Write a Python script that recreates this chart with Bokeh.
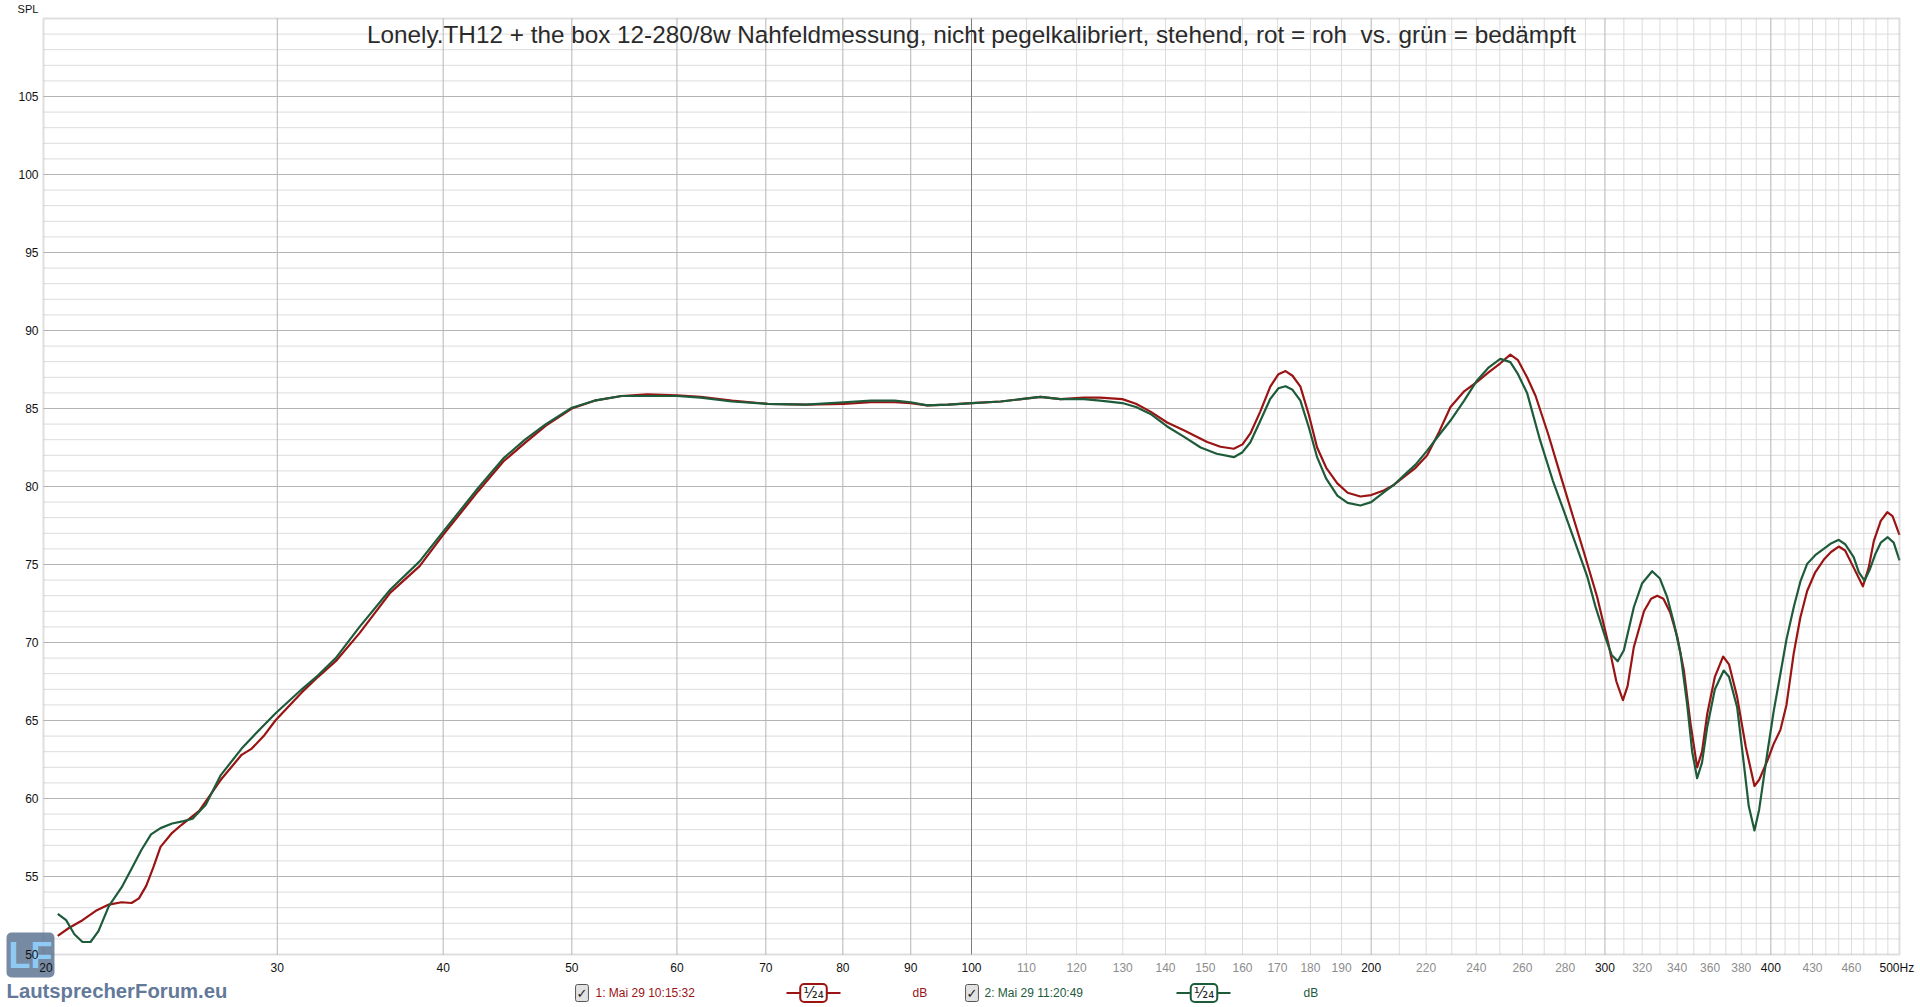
from bokeh.plotting import figure
from bokeh.models import Range1d, Label, Arrow, BoxAnnotation
from bokeh.embed import file_html
from bokeh.resources import INLINE

# ---------------- data ----------------
red_freq = [20.5, 20.9, 21.4, 21.9, 22.4, 22.9, 23.3, 23.6, 23.9, 24.2, 24.5, 25.0, 25.4, 26.2,
            27.2, 28.2, 28.7, 29.3, 29.9, 31.3, 32.2, 33.2, 34.6, 36.5, 38.4, 40.0, 42.5, 44.4,
            46.1, 47.8, 50.0, 52.0, 54.5, 57.0, 60.0, 62.5, 66.0, 70.2, 75.0, 80.1, 84.0, 87.5,
            90.0, 92.6, 96.0, 100.1, 105.2, 109.0, 112.7, 116.7, 121.5, 125.0, 129.9, 133.0,
            136.4, 140.4, 144.5, 150.5, 154.0, 157.6, 160.0, 162.2, 165.0, 167.9, 170.3, 172.4,
            174.5, 176.9, 179.5, 182.1, 185.0, 188.6, 192.0, 196.3, 200.0, 204.4, 208.0, 211.6,
            216.0, 220.4, 225.0, 229.5, 235.0, 240.3, 245.0, 250.2, 254.6, 258.0, 262.1, 266.0,
            272.0, 278.0, 284.0, 289.2, 296.0, 302.0, 306.0, 309.5, 312.0, 315.4, 321.0, 325.0,
            328.5, 332.0, 336.0, 340.0, 344.0, 348.0, 352.0, 355.0, 358.2, 363.0, 368.2, 372.0,
            377.3, 383.0, 388.8, 392.0, 397.5, 402.0, 406.7, 411.0, 416.2, 421.0, 426.0, 432.0,
            438.4, 444.0, 450.0, 455.0, 461.8, 469.2, 474.0, 478.2, 484.0, 489.5, 494.0, 500.0]
red_spl = [51.2, 51.7, 52.2, 52.8, 53.2, 53.35, 53.3, 53.6, 54.4, 55.6, 56.9, 57.8, 58.3, 59.2,
           61.2, 62.8, 63.2, 64.0, 65.0, 66.8, 67.8, 68.8, 70.6, 73.2, 74.9, 76.9, 79.7, 81.6,
           82.8, 83.9, 85.0, 85.5, 85.8, 85.9, 85.85, 85.75, 85.5, 85.3, 85.25, 85.3, 85.4, 85.4,
           85.35, 85.2, 85.25, 85.35, 85.45, 85.6, 85.75, 85.6, 85.7, 85.7, 85.6, 85.3,
           84.8, 84.1, 83.6, 82.85, 82.55, 82.42, 82.7, 83.4, 84.8, 86.4, 87.2, 87.4,
           87.1, 86.4, 84.6, 82.5, 81.2, 80.2, 79.6, 79.36, 79.45, 79.74, 80.1, 80.6,
           81.2, 82.0, 83.5, 85.1, 86.1, 86.7, 87.3, 87.9, 88.45, 88.1, 87.0, 85.8,
           83.3, 80.6, 78.0, 75.8, 72.9, 69.8, 67.5, 66.3, 67.2, 69.7, 72.0, 72.8,
           73.0, 72.8, 71.9, 70.4, 68.2, 64.8, 62.0, 63.0, 65.4, 67.8, 69.1, 68.6,
           66.5, 63.3, 60.8, 61.2, 62.4, 63.5, 64.4, 66.0, 69.3, 71.6, 73.3, 74.5,
           75.3, 75.8, 76.15, 75.9, 74.8, 73.6, 74.8, 76.5, 77.8, 78.35, 78.1, 76.9]

green_freq = [20.5, 20.8, 21.1, 21.4, 21.7, 22.0, 22.4, 22.9, 23.3, 23.7, 24.1, 24.5, 25.0, 25.5,
              25.9, 26.5, 27.2, 28.2, 29.0, 29.9, 31.3, 32.2, 33.2, 34.6, 36.5, 38.4, 40.0, 42.5,
              44.4, 46.1, 47.8, 50.0, 52.0, 54.5, 57.0, 60.0, 62.5, 66.0, 70.2, 75.0, 80.1, 84.0,
              87.5, 90.0, 92.6, 96.0, 100.1, 105.2, 109.0, 112.7, 116.7, 121.5, 125.0, 129.9,
              133.0, 136.4, 140.4, 144.5, 148.8, 153.0, 157.6, 160.0, 162.2, 165.0, 167.9, 170.3,
              172.4, 174.5, 176.9, 179.5, 182.1, 185.0, 188.6, 192.0, 196.3, 200.0, 204.4, 208.0,
              211.6, 216.0, 220.4, 225.0, 229.5, 235.0, 240.3, 245.0, 250.2, 254.6, 258.0, 262.1,
              268.0, 274.0, 280.0, 286.0, 291.0, 295.1, 300.0, 303.5, 306.7, 310.0, 315.4, 320.0,
              325.6, 330.0, 334.2, 338.0, 342.0, 346.0, 349.0, 352.0, 355.0, 358.2, 363.0, 368.6,
              372.0, 377.3, 381.0, 385.0, 388.8, 392.0, 397.5, 402.0, 406.7, 411.0, 416.2, 421.0,
              426.0, 432.0, 438.4, 444.0, 450.0, 455.0, 461.8, 466.0, 470.6, 475.0, 479.6, 484.0,
              489.9, 495.0, 500.0]
green_spl = [52.6, 52.2, 51.3, 50.8, 50.8, 51.5, 53.1, 54.3, 55.5, 56.7, 57.7, 58.1, 58.4, 58.55,
             58.7, 59.6, 61.5, 63.2, 64.3, 65.45, 67.0, 67.9, 69.0, 71.0, 73.4, 75.2, 77.1, 79.9,
             81.8, 83.0, 84.0, 85.05, 85.5, 85.8, 85.8, 85.8, 85.7, 85.45, 85.3, 85.25, 85.4, 85.5,
             85.5, 85.4, 85.2, 85.25, 85.35, 85.45, 85.6, 85.75, 85.6, 85.6, 85.5, 85.35,
             85.1, 84.65, 83.85, 83.2, 82.5, 82.1, 81.88, 82.2, 82.84, 84.2, 85.62, 86.3,
             86.43, 86.2, 85.5, 83.8, 81.88, 80.5, 79.42, 78.95, 78.78, 79.0, 79.63, 80.1,
             80.7, 81.4, 82.3, 83.3, 84.23, 85.5, 86.8, 87.6, 88.18, 87.97, 87.2, 86.0,
             83.0, 80.4, 78.2, 76.0, 74.2, 72.3, 70.4, 69.2, 68.8, 69.5, 72.26, 73.8,
             74.57, 74.1, 72.9, 71.3, 69.3, 66.0, 63.0, 61.3, 62.3, 64.57, 67.0, 68.2,
             67.8, 65.85, 62.8, 59.5, 57.95, 59.3, 62.87, 65.6, 68.0, 70.2, 72.26, 73.9,
             75.04, 75.6, 76.0, 76.35, 76.58, 76.3, 75.47, 74.5, 73.97, 74.7, 75.69, 76.4,
             76.75, 76.4, 75.26]

x_major_ticks = [20, 30, 40, 50, 60, 70, 80, 90, 100, 200, 300, 400]
x_major_labels = ["20", "30", "40", "50", "60", "70", "80", "90", "100", "200", "300", "400"]
x_minor_ticks = [110, 120, 130, 140, 150, 160, 170, 180, 190, 220, 240, 260, 280,
                 320, 340, 360, 380, 430, 460]
x_minor_labels = ["110", "120", "130", "140", "150", "160", "170", "180", "190", "220", "240",
                  "260", "280", "320", "340", "360", "380", "430", "460"]
x_end_label = "500Hz"
y_ticks = [50, 55, 60, 65, 70, 75, 80, 85, 90, 95, 100, 105]
y_labels = ["50", "55", "60", "65", "70", "75", "80", "85", "90", "95", "100", "105"]
grid_x_medium = [30, 40, 50, 60, 70, 80, 90, 200, 300, 400]
grid_x_dark = [100]
grid_x_light = [f for f in range(110, 500, 10) if f not in (200, 300, 400)]
grid_y_major = [55, 60, 65, 70, 75, 80, 85, 90, 95, 100, 105]
grid_y_minor = [v for v in range(51, 110) if v % 5]

title_text = ("Lonely.TH12 + the box 12-280/8w Nahfeldmessung, nicht pegelkalibriert, "
              "stehend, rot = roh \u00a0vs. grün = bedämpft")
legend1_text = "1: Mai 29 10:15:32"
legend2_text = "2: Mai 29 11:20:49"
smoothing_text = "¹⁄₂₄"
unit_text = "dB"
logo_mark = "LF"
logo_text = "LautsprecherForum.eu"
y_axis_name = "SPL"

RED = "#9a1414"
GREEN = "#1e5b3b"

# ---------------- geometry ----------------
W, H = 1918, 1006
F_MIN, F_MAX = 20, 500
DB_MIN, DB_MAX = 50, 110
CX0, CX1, CY0, CY1 = 43, 1899, 18, 954   # chart box in page pixels


def fx(px):
    """page pixel x -> frequency"""
    return F_MIN * (F_MAX / F_MIN) ** ((px - CX0) / (CX1 - CX0))


def dy(py):
    """page pixel y -> dB"""
    return DB_MIN + (DB_MAX - DB_MIN) * (CY1 - py) / (CY1 - CY0)


p = figure(width=W, height=H, x_axis_type="log",
           x_range=Range1d(fx(0), fx(W)), y_range=Range1d(dy(H), dy(0)),
           output_backend="svg", toolbar_location=None,
           min_border_left=0, min_border_right=0, min_border_top=0, min_border_bottom=0)
p.xaxis.visible = False
p.yaxis.visible = False
p.xgrid.visible = False
p.ygrid.visible = False
p.title.visible = False
p.background_fill_color = "white"
p.border_fill_color = "white"
p.outline_line_color = None

# grid
p.segment(x0=grid_x_light, x1=grid_x_light, y0=DB_MIN, y1=DB_MAX, line_color="#dcdcdc", line_width=1)
p.segment(x0=F_MIN, x1=F_MAX, y0=grid_y_minor, y1=grid_y_minor, line_color="#dcdcdc", line_width=1)
p.segment(x0=grid_x_medium, x1=grid_x_medium, y0=DB_MIN, y1=DB_MAX, line_color="#b5b5b5", line_width=1)
p.segment(x0=F_MIN, x1=F_MAX, y0=grid_y_major, y1=grid_y_major, line_color="#b5b5b5", line_width=1)
p.segment(x0=grid_x_dark, x1=grid_x_dark, y0=DB_MIN, y1=DB_MAX, line_color="#7d7d7d", line_width=1)

# chart box
p.add_layout(BoxAnnotation(left=F_MIN, right=F_MAX, bottom=DB_MIN, top=DB_MAX,
                           fill_alpha=0, line_color="#929292", line_width=2))

# curves
p.line(red_freq, red_spl, line_color=RED, line_width=2.2, line_join="round")
p.line(green_freq, green_spl, line_color=GREEN, line_width=2.2, line_join="round")

FONT = "Liberation Sans"

# title
p.add_layout(Label(x=fx(971), y=dy(34), text=title_text, text_align="center",
                   text_baseline="middle", text_font_size="24.3px", text_color="#2a2a2a",
                   text_font=FONT))

# logo box (under the tick labels)
p.add_layout(Label(x=fx(6), y=dy(977), text=logo_mark, text_align="left",
                   text_baseline="bottom", text_font_size="36px", text_font_style="bold",
                   text_color="#8fcaf5", text_font=FONT, background_fill_color="#5f7593",
                   background_fill_alpha=0.85, border_radius=5, padding=2))
p.add_layout(Label(x=fx(6), y=dy(990), text=logo_text, text_align="left",
                   text_baseline="middle", text_font_size="20.3px", text_font_style="bold",
                   text_color="#62799a", text_font=FONT))

# axis labels
p.add_layout(Label(x=fx(27.5), y=dy(8.5), text=y_axis_name, text_align="center",
                   text_baseline="middle", text_font_size="11px", text_color="#111111",
                   text_font=FONT))
for v, t in zip(y_ticks, y_labels):
    p.add_layout(Label(x=fx(38), y=v, text=t, text_align="right", text_baseline="middle",
                       text_font_size="12px", text_color="#111111", text_font=FONT))
for v, t in zip(x_major_ticks, x_major_labels):
    xv = fx(45.5) if v == F_MIN else v
    p.add_layout(Label(x=xv, y=dy(967), text=t, text_align="center", text_baseline="middle",
                       text_font_size="12px", text_color="#111111", text_font=FONT))
for v, t in zip(x_minor_ticks, x_minor_labels):
    p.add_layout(Label(x=v, y=dy(967), text=t, text_align="center", text_baseline="middle",
                       text_font_size="12px", text_color="#8c8c8c", text_font=FONT))
p.add_layout(Label(x=fx(1879), y=dy(967), text=x_end_label, text_align="left",
                   text_baseline="middle", text_font_size="12px", text_color="#111111",
                   text_font=FONT))

# legend row
LEG_Y = dy(992.5)
for cx, tx, sx0, sx1, sc, ux, col, txt in [
        (581.5, 595, 786, 840, 813, 912, RED, legend1_text),
        (971.5, 984, 1176, 1230, 1203.5, 1303, GREEN, legend2_text)]:
    p.add_layout(Label(x=fx(cx), y=LEG_Y, text="✓", text_align="center", text_baseline="middle",
                       text_font_size="13px", text_color="#222222", text_font="DejaVu Sans",
                       background_fill_color="#e2e2e2", border_line_color="#555555",
                       border_line_width=1, border_radius=2, padding=1))
    p.add_layout(Label(x=fx(tx), y=LEG_Y, text=txt, text_align="left", text_baseline="middle",
                       text_font_size="12px", text_color=col, text_font=FONT))
    p.add_layout(Arrow(x_start=fx(sx0), x_end=fx(sx1), y_start=LEG_Y, y_end=LEG_Y, end=None,
                       line_color=col, line_width=2))
    p.add_layout(Label(x=fx(sc), y=LEG_Y, text=smoothing_text, text_align="center",
                       text_baseline="middle", text_font_size="15px", text_color="#222222",
                       text_font="DejaVu Sans", background_fill_color="white",
                       border_line_color=col, border_line_width=2, border_radius=4,
                       padding=(3, 0)))
    p.add_layout(Label(x=fx(ux), y=LEG_Y, text=unit_text, text_align="left",
                       text_baseline="middle", text_font_size="12px", text_color=col,
                       text_font=FONT))

open("out.html", "w").write(file_html(p, INLINE))
